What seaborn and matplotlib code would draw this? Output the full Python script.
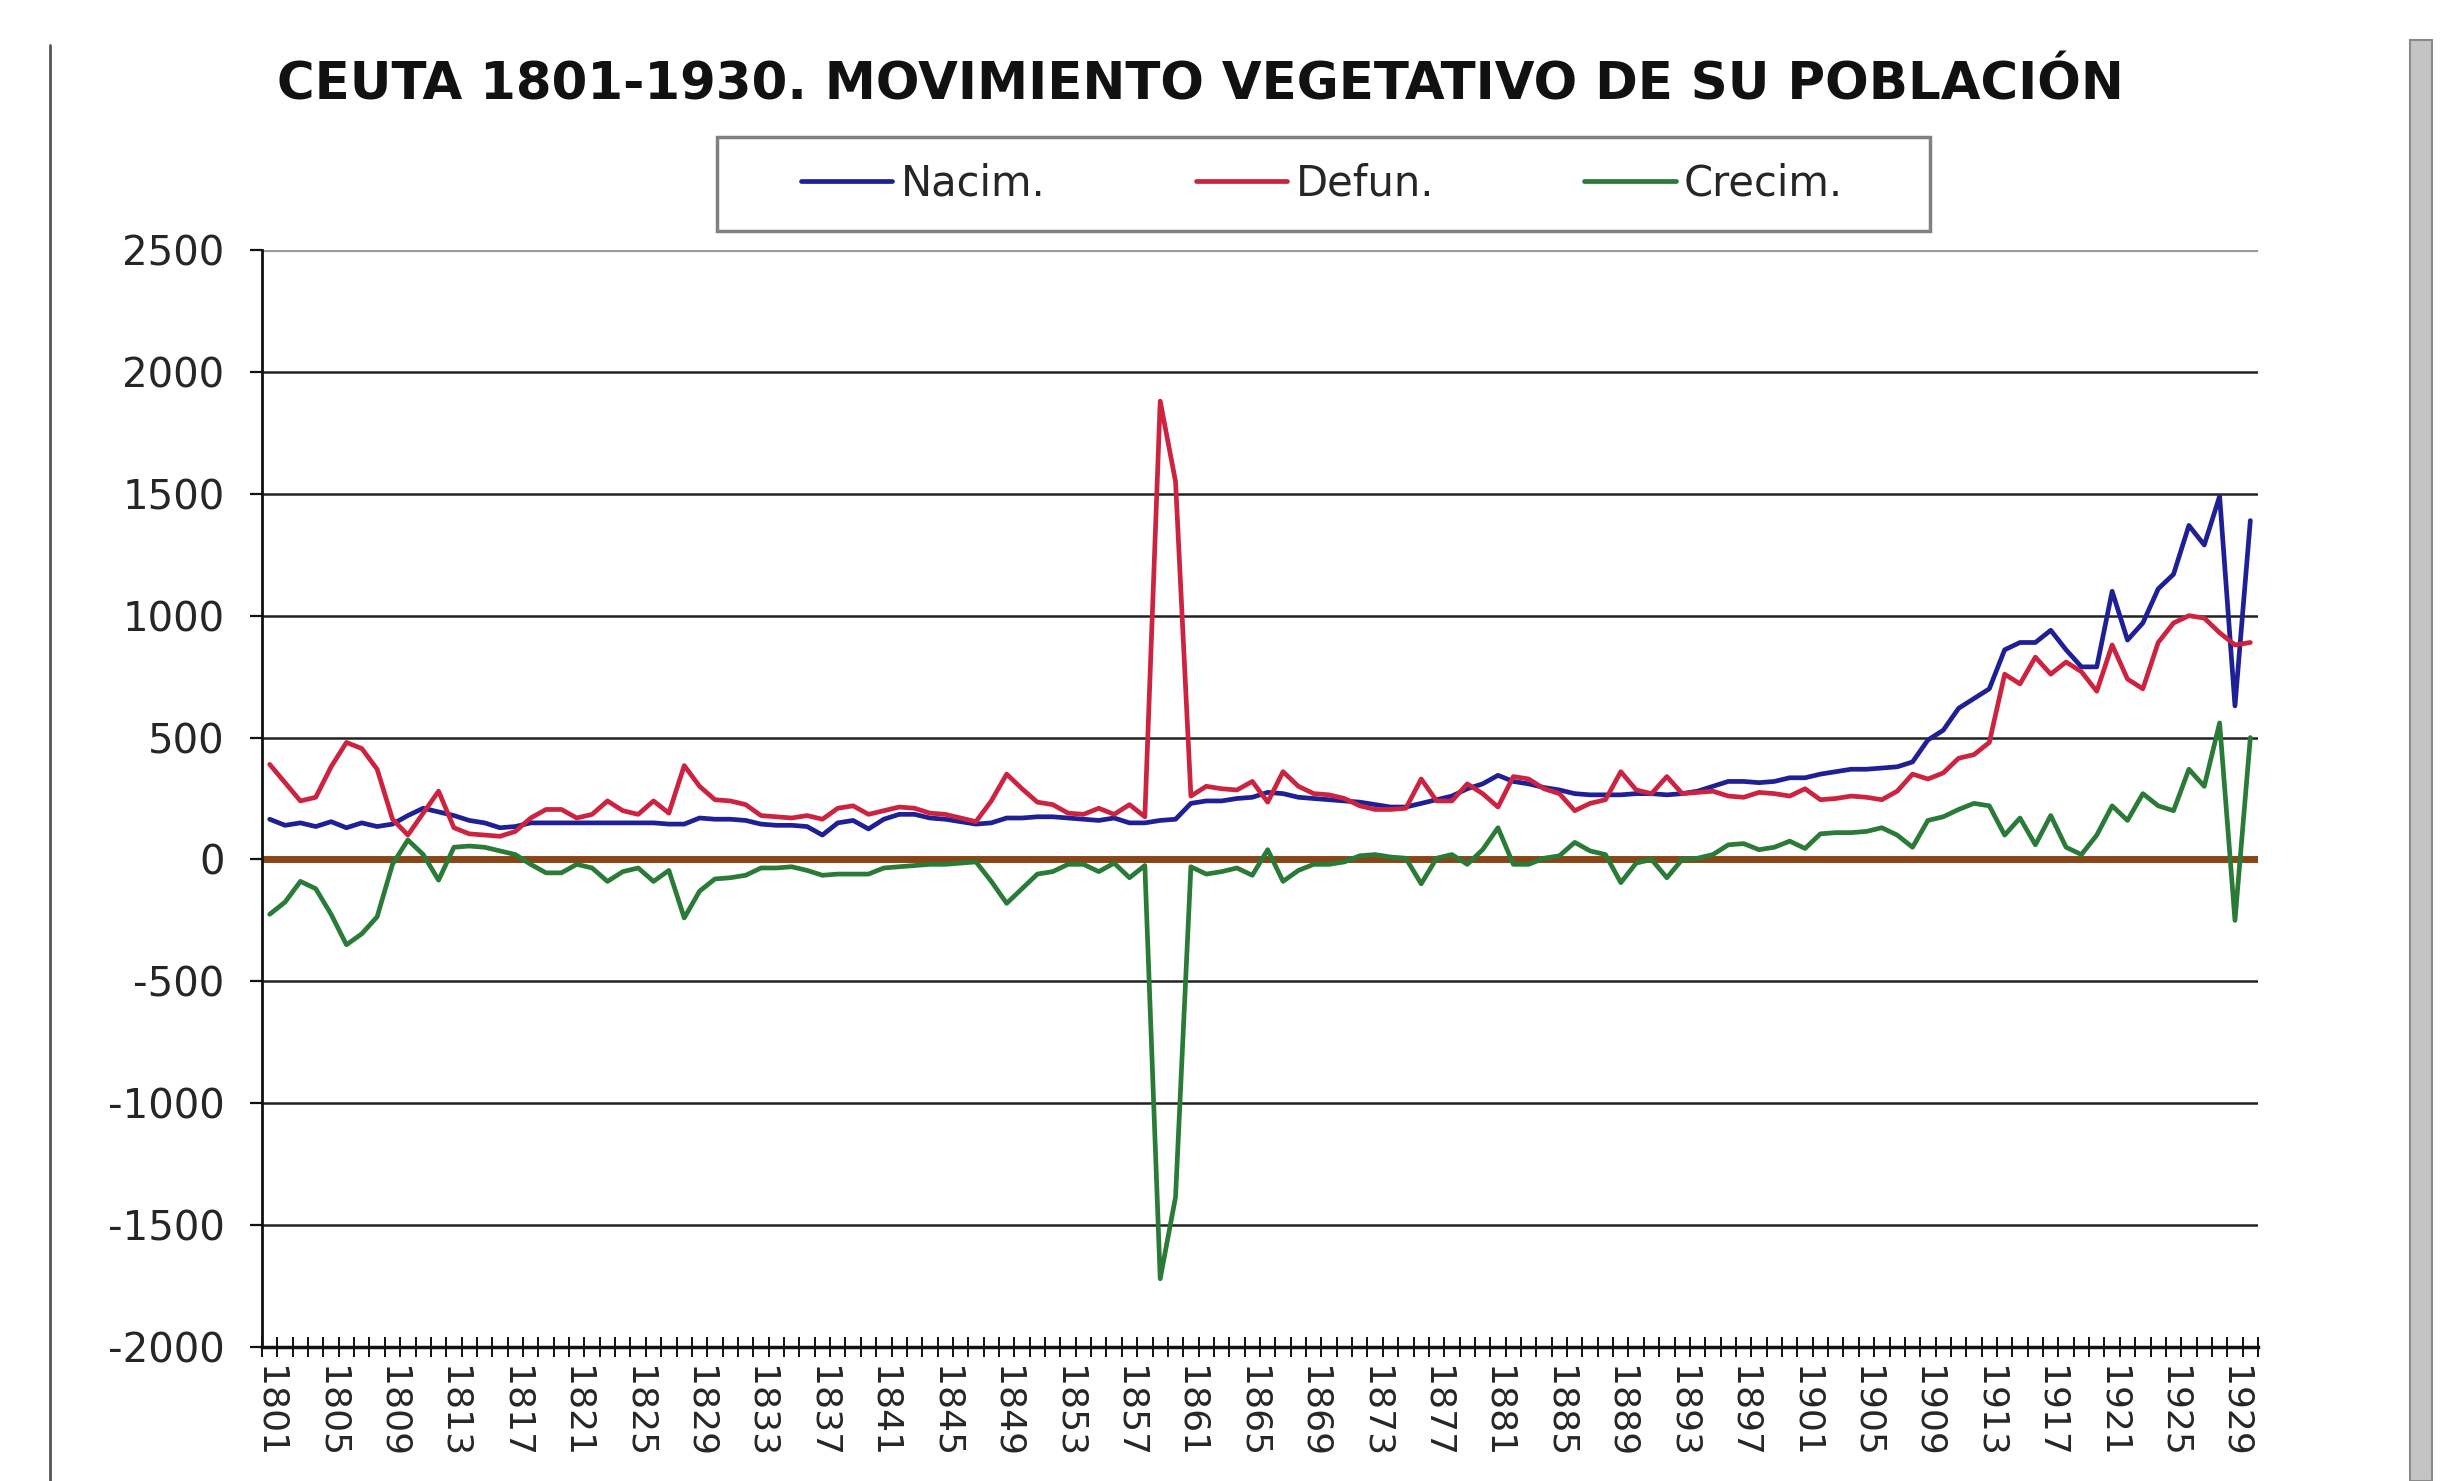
import numpy as np
import pandas as pd
import matplotlib
matplotlib.use("Agg")
import matplotlib.pyplot as plt
import seaborn as sns
from matplotlib.lines import Line2D
from matplotlib.patches import Rectangle

# Ceuta 1801-1930: nacimientos, defunciones y crecimiento vegetativo
years = list(range(1801, 1931))

nacim = [
    165, 140, 150, 135, 155, 130, 150, 135, 145, 180,
    210, 195, 180, 160, 150, 130, 135, 150, 150, 150,
    150, 150, 150, 150, 150, 150, 145, 145, 170, 165,
    165, 160, 145, 140, 140, 135, 100, 150, 160, 125,
    165, 185, 185, 170, 165, 155, 145, 150, 170, 170,
    175, 175, 170, 165, 160, 170, 150, 150, 160, 165,
    230, 240, 240, 250, 255, 275, 270, 255, 250, 245,
    240, 235, 225, 215, 215, 230, 245, 260, 290, 310,
    345, 320, 310, 295, 285, 270, 265, 265, 265, 270,
    270, 265, 270, 280, 300, 320, 320, 315, 320, 335,
    335, 350, 360, 370, 370, 375, 380, 400, 490, 530,
    620, 660, 700, 860, 890, 890, 940, 860, 790, 790,
    1100, 900, 970, 1110, 1170, 1370, 1290, 1490, 630, 1390,
]

defun = [
    390, 315, 240, 255, 380, 480, 455, 370, 165, 100,
    190, 280, 130, 105, 100, 95, 115, 170, 205, 205,
    170, 185, 240, 200, 185, 240, 190, 385, 300, 245,
    240, 225, 180, 175, 170, 180, 165, 210, 220, 185,
    200, 215, 210, 190, 185, 170, 155, 240, 350, 290,
    235, 225, 190, 185, 210, 185, 225, 175, 1880, 1550,
    260, 300, 290, 285, 320, 235, 360, 300, 270, 265,
    250, 220, 205, 205, 210, 330, 240, 240, 310, 270,
    215, 340, 330, 290, 270, 200, 230, 245, 360, 285,
    270, 340, 270, 275, 280, 260, 255, 275, 270, 260,
    290, 245, 250, 260, 255, 245, 280, 350, 330, 355,
    415, 430, 480, 760, 720, 830, 760, 810, 770, 690,
    880, 740, 700, 890, 970, 1000, 990, 930, 880, 890,
]

crecim = [
    -225, -175, -90, -120, -225, -350, -305, -235, -20, 80,
    20, -85, 50, 55, 50, 35, 20, -20, -55, -55,
    -20, -35, -90, -50, -35, -90, -45, -240, -130, -80,
    -75, -65, -35, -35, -30, -45, -65, -60, -60, -60,
    -35, -30, -25, -20, -20, -15, -10, -90, -180, -120,
    -60, -50, -20, -20, -50, -15, -75, -25, -1720, -1385,
    -30, -60, -50, -35, -65, 40, -90, -45, -20, -20,
    -10, 15, 20, 10, 5, -100, 5, 20, -20, 40,
    130, -20, -20, 5, 15, 70, 35, 20, -95, -15,
    0, -75, 0, 5, 20, 60, 65, 40, 50, 75,
    45, 105, 110, 110, 115, 130, 100, 50, 160, 175,
    205, 230, 220, 100, 170, 60, 180, 50, 20, 100,
    220, 160, 270, 220, 200, 370, 300, 560, -250, 500,
]

series_names = ["Nacim.", "Defun.", "Crecim."]
colors = {"Nacim.": "#1f1f96", "Defun.": "#cc2440", "Crecim.": "#2a7a38"}
title = "CEUTA 1801-1930. MOVIMIENTO VEGETATIVO DE SU POBLACIÓN"

# long-form table for seaborn
pos = np.arange(len(years))
df = pd.concat([
    pd.DataFrame({"pos": pos, "year": years, "valor": vals, "serie": name})
    for name, vals in zip(series_names, [nacim, defun, crecim])
], ignore_index=True)

sns.set_theme(style="white")
plt.rcParams["font.family"] = ["DejaVu Sans"]

W, H = 2445, 1481
fig = plt.figure(figsize=(W / 100, H / 100), dpi=100)
fig.patch.set_facecolor("white")
ax = fig.add_axes([262 / W, 1 - 1347 / H, (2258 - 262) / W, (1347 - 250) / H])

ax.axhline(0, color="#8a4516", lw=5, zorder=1.5)
sns.lineplot(data=df, x="pos", y="valor", hue="serie", hue_order=series_names,
             palette=colors, linewidth=3.4, estimator=None, sort=False,
             legend=False, ax=ax, zorder=3)

# axes
ax.set_xlim(-0.5, len(years) - 0.5)
ax.set_ylim(-2000, 2500)
ax.set_yticks(range(-2000, 2501, 500))
ax.set_yticklabels([str(v) for v in range(-2000, 2501, 500)])
ax.grid(axis="y", color="#222222", lw=1.8, zorder=1)
ax.yaxis.get_gridlines()[-1].set_color("#999999")
ax.yaxis.get_gridlines()[-1].set_linewidth(3)
ax.set_xlabel("")
ax.set_ylabel("")

ax.set_xticks(pos[::4])
ax.set_xticklabels([str(y) for y in years[::4]], rotation=270)
ax.set_xticks(np.arange(-0.5, len(years), 1), minor=True)
ax.tick_params(axis="x", which="major", length=0, labelsize=26, pad=14)
ax.tick_params(axis="x", which="minor", length=14, width=1.4, direction="inout",
               color="#111111", bottom=True)
ax.tick_params(axis="y", length=9, width=1.6, direction="out", color="#111111",
               labelsize=29, pad=18, left=True)

for side in ["top", "right"]:
    ax.spines[side].set_visible(False)
ax.spines["left"].set_color("#111111")
ax.spines["left"].set_linewidth(2)
ax.spines["bottom"].set_color("#111111")
ax.spines["bottom"].set_linewidth(2.5)

# title
fig.text(1200 / W, 1 - 86 / H, title, ha="center", va="center",
         fontsize=37, fontweight="bold", color="#111111")

# legend with its own frame box
handles = [Line2D([0], [0], color=colors[n], lw=3.4) for n in series_names]
fig.legend(handles, series_names, loc="center",
           bbox_to_anchor=(1322 / W, 1 - 184 / H), ncol=3, frameon=False,
           fontsize=30, handlelength=2.2, handletextpad=0.2, columnspacing=3.6)
fig.patches.append(Rectangle((717 / W, 1 - 231 / H), 1213 / W, 94 / H,
                             transform=fig.transFigure, fill=False,
                             edgecolor="#808080", lw=2.5))

# outer chart frame edges
fig.lines.append(Line2D([50 / W, 50 / W], [1 - 45 / H, 0], transform=fig.transFigure,
                        color="#555555", lw=2))
fig.patches.append(Rectangle((2410 / W, 0), 22 / W, 1 - 40 / H,
                             transform=fig.transFigure, facecolor="#c4c4c4",
                             edgecolor="#8a8a8a", lw=1.5))

fig.savefig("out.png", dpi=100)
